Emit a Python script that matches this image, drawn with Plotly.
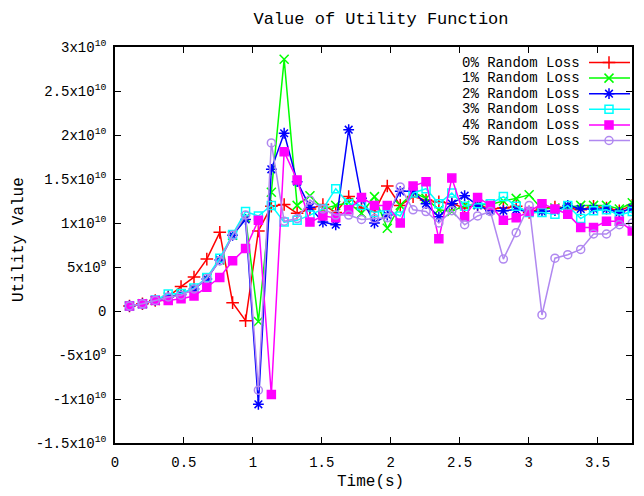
import plotly.graph_objects as go

# sample times (s)
time_s = [0.105, 0.199, 0.292, 0.386, 0.479, 0.573, 0.666, 0.760, 0.853, 0.947,
          1.040, 1.134, 1.227, 1.321, 1.414, 1.508, 1.601, 1.695, 1.788, 1.882,
          1.975, 2.069, 2.162, 2.256, 2.349, 2.443, 2.536, 2.630, 2.723, 2.817,
          2.910, 3.004, 3.097, 3.191, 3.284, 3.378, 3.471, 3.565, 3.658, 3.752]

# utility values in units of 1e9
loss0 = [0.57, 0.82, 1.2, 1.65, 2.77, 3.85, 5.9, 8.94, 0.95, -1.1,
         9.1, 11.9, 12.1, 11.1, 11.6, 12.1, 11.2, 13.0, 11.7, 11.3,
         14.2, 12.0, 13.0, 12.6, 12.4, 12.2, 11.7, 12.1, 11.6, 11.7,
         11.9, 11.2, 11.7, 11.8, 11.7, 11.5, 11.9, 11.7, 11.4, 12.0]
loss1 = [0.57, 0.82, 1.2, 1.6, 1.95, 2.55, 3.7, 5.8, 8.6, 10.6,
         -1.2, 13.5, 28.6, 12.0, 13.1, 11.6, 12.0, 12.3, 11.1, 13.0,
         9.4, 12.0, 13.5, 12.8, 11.5, 11.3, 12.0, 12.1, 12.1, 12.5,
         12.8, 13.2, 11.6, 11.7, 11.8, 12.0, 12.0, 12.0, 11.6, 12.3]
loss2 = [0.57, 0.82, 1.2, 1.6, 1.85, 2.5, 3.65, 5.8, 8.6, 10.4,
         -10.6, 16.1, 20.2, 14.7, 11.8, 10.1, 9.8, 20.6, 12.8, 10.0,
         10.9, 13.6, 13.6, 12.2, 10.7, 12.2, 13.1, 12.0, 11.4, 11.4,
         11.5, 11.3, 11.3, 11.4, 12.0, 11.6, 11.6, 11.6, 11.2, 11.7]
loss3 = [0.57, 0.82, 1.25, 1.93, 2.0, 2.6, 3.8, 6.0, 8.7, 11.3,
         10.8, 12.0, 10.1, 10.3, 10.9, 11.6, 13.9, 12.2, 12.0, 11.2,
         11.5, 10.8, 13.4, 13.9, 12.2, 13.4, 11.9, 12.2, 12.2, 13.0,
         11.9, 11.2, 11.2, 11.0, 12.0, 10.5, 11.4, 11.5, 10.9, 11.3]
loss4 = [0.57, 0.82, 1.2, 1.2, 1.4, 1.7, 2.7, 3.8, 5.7, 7.1,
         10.3, -9.5, 18.1, 14.9, 10.1, 10.8, 10.6, 11.5, 12.9, 12.0,
         12.0, 10.0, 14.2, 14.7, 8.2, 15.1, 10.7, 12.9, 12.0, 10.3,
         10.6, 11.3, 12.2, 11.6, 11.0, 9.5, 9.5, 10.2, 10.2, 9.1]
loss5 = [0.57, 0.82, 1.2, 1.6, 1.8, 2.5, 3.7, 5.7, 8.6, 10.9,
         -9.0, 19.1, 10.2, 10.5, 12.6, 11.6, 10.9, 10.9, 10.4, 10.5,
         10.6, 14.1, 11.5, 11.3, 10.0, 11.4, 9.8, 10.8, 11.3, 5.9,
         8.9, 12.0, -0.45, 6.0, 6.4, 7.0, 8.75, 8.75, 9.8, 10.0]

series_names = ["0% Random Loss", "1% Random Loss", "2% Random Loss",
                "3% Random Loss", "4% Random Loss", "5% Random Loss"]
series_vals = [loss0, loss1, loss2, loss3, loss4, loss5]
colors = ["#ff0000", "#00ff00", "#0000ff", "#00ffff", "#ff00ff", "#b088f0"]
symbols = ["cross-thin-open", "x-thin-open", "asterisk-open",
           "square-open", "square", "circle-open"]
msizes = [9, 9, 9, 8, 8, 8]

y_tickvals = [30, 25, 20, 15, 10, 5, 0, -5, -10, -15]
y_ticktext = ["3x10<sup>10</sup>", "2.5x10<sup>10</sup>", "2x10<sup>10</sup>",
              "1.5x10<sup>10</sup>", "1x10<sup>10</sup>", "5x10<sup>9</sup>", "0",
              "-5x10<sup>9</sup>", "-1x10<sup>10</sup>", "-1.5x10<sup>10</sup>"]
x_tickvals = [0, 0.5, 1, 1.5, 2, 2.5, 3, 3.5]
x_ticktext = ["0", "0.5", "1", "1.5", "2", "2.5", "3", "3.5"]

FONT = "Liberation Mono"

fig = go.Figure()
for name, vals, c, s, ms in zip(series_names, series_vals, colors, symbols, msizes):
    fig.add_trace(go.Scatter(
        x=time_s, y=vals, mode="lines+markers", name=name,
        line=dict(color=c, width=1.5),
        marker=dict(symbol=s, size=ms, color=c, line=dict(color=c, width=1.5)),
        showlegend=False, cliponaxis=True))

# gnuplot-style key: text on the left, sample on the right
L, R, T, B = 115, 12, 47, 53
W, H = 644, 496
pw, ph = W - L - R, H - T - B
def px2paper_x(px):
    return (px - L) / pw
def py2paper_y(py):
    return (H - B - py) / ph

for k, (name, c, s, ms) in enumerate(zip(series_names, colors, symbols, msizes)):
    ypx = 62.5 + 15.6 * k
    yp = py2paper_y(ypx)
    fig.add_annotation(x=px2paper_x(582), y=yp, xref="paper", yref="paper",
                       text=name, showarrow=False, xanchor="right", yanchor="middle",
                       font=dict(family=FONT, size=14, color="#000000"))
    fig.add_trace(go.Scatter(
        x=[px2paper_x(589), px2paper_x(630)], y=[yp, yp], xaxis="x2", yaxis="y2",
        mode="lines", line=dict(color=c, width=1.5), showlegend=False, hoverinfo="skip"))
    fig.add_trace(go.Scatter(
        x=[px2paper_x(609)], y=[yp], xaxis="x2", yaxis="y2",
        mode="markers", marker=dict(symbol=s, size=ms, color=c, line=dict(color=c, width=1.5)),
        showlegend=False, hoverinfo="skip"))

# axis titles placed as annotations (gnuplot positions)
fig.add_annotation(x=px2paper_x(370), y=py2paper_y(482), xref="paper", yref="paper",
                   text="Time(s)", showarrow=False, xanchor="center", yanchor="middle",
                   font=dict(family=FONT, size=16, color="#000000"))
fig.add_annotation(x=px2paper_x(19), y=py2paper_y(240), xref="paper", yref="paper",
                   text="Utility Value", showarrow=False, xanchor="center", yanchor="middle",
                   textangle=-90, font=dict(family=FONT, size=16, color="#000000"))

axis_common = dict(showgrid=False, zeroline=False, showline=True, linecolor="#000000",
                   linewidth=1.5, mirror="ticks", ticks="inside", ticklen=6,
                   tickwidth=1.2, tickcolor="#000000", automargin=False,
                   tickfont=dict(family=FONT, size=14, color="#000000"))

fig.update_layout(
    width=W, height=H,
    margin=dict(l=L, r=R, t=T, b=B),
    paper_bgcolor="#ffffff", plot_bgcolor="#ffffff",
    title=dict(text="Value of Utility Function", x=(381) / W, xanchor="center",
               y=1 - 18 / H, yanchor="middle",
               font=dict(family=FONT, size=17, color="#000000")),
    xaxis=dict(range=[0, 3.75], tickvals=x_tickvals, ticktext=x_ticktext,
               ticklabelstandoff=5, **axis_common),
    yaxis=dict(range=[-15, 30], tickvals=y_tickvals, ticktext=y_ticktext,
               ticklabelstandoff=4, **axis_common),
    xaxis2=dict(range=[0, 1], overlaying="x", visible=False, fixedrange=True),
    yaxis2=dict(range=[0, 1], overlaying="y", visible=False, fixedrange=True),
    showlegend=False,
)

fig.write_html("out.html")
